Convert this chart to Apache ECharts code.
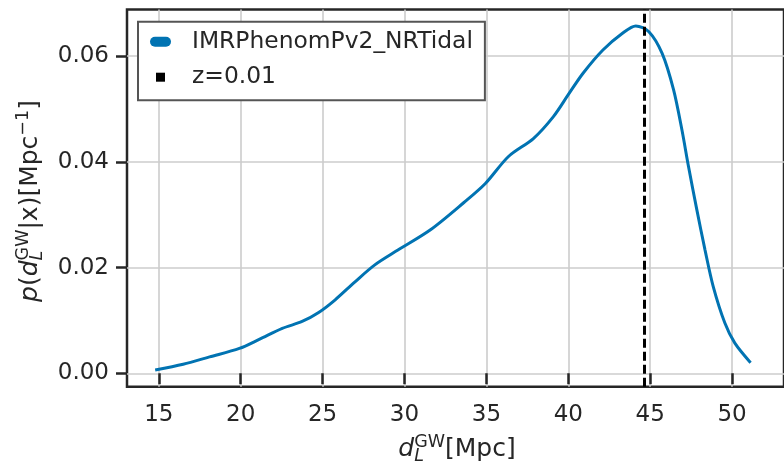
<!DOCTYPE html>
<html><head><meta charset="utf-8">
<script src="https://cdn.jsdelivr.net/npm/echarts@6/dist/echarts.min.js"></script>
<style>html,body{margin:0;padding:0;background:#fff}#c{width:784px;height:466px}</style>
</head><body><div id="c"></div>
<script>
// ---- data ----
const distances = [14.78, 16.49, 18.10, 19.92, 21.13, 22.54, 23.75, 24.76, 25.77, 26.98, 28.19, 29.60, 31.61, 33.63, 34.94, 36.35, 37.87, 39.08, 39.98, 40.89, 42.10, 43.31, 44.12, 44.92, 45.73, 46.43, 46.94, 47.34, 47.85, 48.35, 48.85, 49.56, 50.17, 51.13];
const density   = [0.00062, 0.0017, 0.0031, 0.0047, 0.0064, 0.0085, 0.0098, 0.0115, 0.0139, 0.0173, 0.0205, 0.0233, 0.0272, 0.0323, 0.0359, 0.0410, 0.0444, 0.0485, 0.0526, 0.0567, 0.0611, 0.0643, 0.0657, 0.0646, 0.0605, 0.0536, 0.0460, 0.0391, 0.0309, 0.0233, 0.0164, 0.0095, 0.0057, 0.0020];
const zDistance = 44.62;
const xTicks = [15, 20, 25, 30, 35, 40, 45, 50];
const yTicks = [0, 0.02, 0.04, 0.06];
const seriesNames = ['IMRPhenomPv2_NRTidal', 'z=0.01'];

// ---- helpers ----
const FONT = 'DejaVu Sans';
const TXT = '#262626';
const mctx = document.createElement('canvas').getContext('2d');
function measure(t, size, it) { mctx.font = (it ? 'italic ' : '') + size + 'px "' + FONT + '"'; return mctx.measureText(t).width; }
function mathLabel(pieces, cx, cy, rotation) {
  const MAIN = 25, SMALL = 17.5;
  let x = 0, lastStart = 0, lastAdv = 0, lastKind = null;
  const children = [];
  pieces.forEach(p => {
    const size = p.k === 'main' ? MAIN : SMALL;
    const wd = measure(p.t, size, p.it);
    let start;
    if ((p.k === 'sub' && lastKind === 'sup') || (p.k === 'sup' && lastKind === 'sub')) {
      start = lastStart; lastAdv = Math.max(lastAdv, wd); x = start + lastAdv;
    } else {
      start = x; lastAdv = wd; x = start + wd;
    }
    lastStart = start; lastKind = p.k;
    children.push({type: 'text', x: start, y: p.k === 'sup' ? -7 : (p.k === 'sub' ? 7 : 0),
      style: {text: p.t, fontSize: size, fontFamily: FONT, fontStyle: p.it ? 'italic' : 'normal', fill: TXT, align: 'left', verticalAlign: 'middle'}});
  });
  children.forEach(c => { c.x -= x / 2; });
  return {type: 'group', x: cx, y: cy, rotation: rotation, silent: true, children: children};
}

const pillIcon = 'path://M0,0 M5,0 L16,0 A5,5 0 0 1 16,10 L5,10 A5,5 0 0 1 5,0 Z M37,10';
const squareIcon = 'path://M0,0 M6,0.5 L15,0.5 L15,9.5 L6,9.5 Z M37,10';

const chart = echarts.init(document.getElementById('c'), null, {renderer: 'canvas'});
chart.setOption({
  animation: false,
  backgroundColor: '#fff',
  grid: {left: 127, top: 9.5, width: 663, height: 377.2, show: true, borderColor: '#262626', borderWidth: 2.5, backgroundColor: 'transparent'},
  xAxis: {
    type: 'value', min: 13.06, max: 53.17,
    axisLine: {show: false},
    axisTick: {customValues: xTicks, length: 11, lineStyle: {color: '#262626', width: 2.5}},
    axisLabel: {customValues: xTicks, margin: 17, fontSize: 23, fontFamily: FONT, color: TXT},
    splitLine: {show: true, lineStyle: {color: '#cccccc', width: 1.6}}
  },
  yAxis: {
    type: 'value', min: -0.002535, max: 0.0688,
    axisLine: {show: false},
    axisTick: {customValues: yTicks, length: 11, lineStyle: {color: '#262626', width: 2.5}},
    axisLabel: {customValues: yTicks, margin: 18, fontSize: 23, fontFamily: FONT, color: TXT, formatter: v => v.toFixed(2)},
    splitLine: {show: true, lineStyle: {color: '#cccccc', width: 1.6}}
  },
  legend: {
    left: 138, top: 21.7, orient: 'vertical',
    backgroundColor: '#fff', borderColor: '#555555', borderWidth: 2, borderRadius: 0,
    padding: [7, 12, 10, 12],
    itemWidth: 37, itemHeight: 10, itemGap: 9.5,
    itemStyle: {borderWidth: 0},
    textStyle: {fontFamily: FONT, fontSize: 23.4, color: TXT, lineHeight: 26},
    data: [{name: seriesNames[0], icon: pillIcon}, {name: seriesNames[1], icon: squareIcon}]
  },
  series: [
    {name: seriesNames[0], type: 'line', z: 2, showSymbol: false, smooth: 0.3,
     color: '#0173b2', lineStyle: {color: '#0173b2', width: 3},
     data: distances.map((d, i) => [d, density[i]])},
    {name: seriesNames[1], type: 'line', z: 3, color: '#000000', data: [],
     markLine: {silent: true, symbol: 'none', label: {show: false}, animation: false,
       lineStyle: {color: '#000000', width: 3, type: [9, 4]},
       data: [{xAxis: zDistance}]}}
  ],
  graphic: [
    mathLabel([{t: 'd', k: 'main', it: 1}, {t: 'GW', k: 'sup'}, {t: 'L', k: 'sub', it: 1}, {t: '[Mpc]', k: 'main'}], 457, 449, 0),
    mathLabel([{t: 'p', k: 'main', it: 1}, {t: '(', k: 'main'}, {t: 'd', k: 'main', it: 1}, {t: 'GW', k: 'sup'}, {t: 'L', k: 'sub', it: 1},
               {t: '|x)[Mpc', k: 'main'}, {t: '\u22121', k: 'sup'}, {t: ']', k: 'main'}], 30, 201, Math.PI / 2)
  ]
});
</script></body></html>
